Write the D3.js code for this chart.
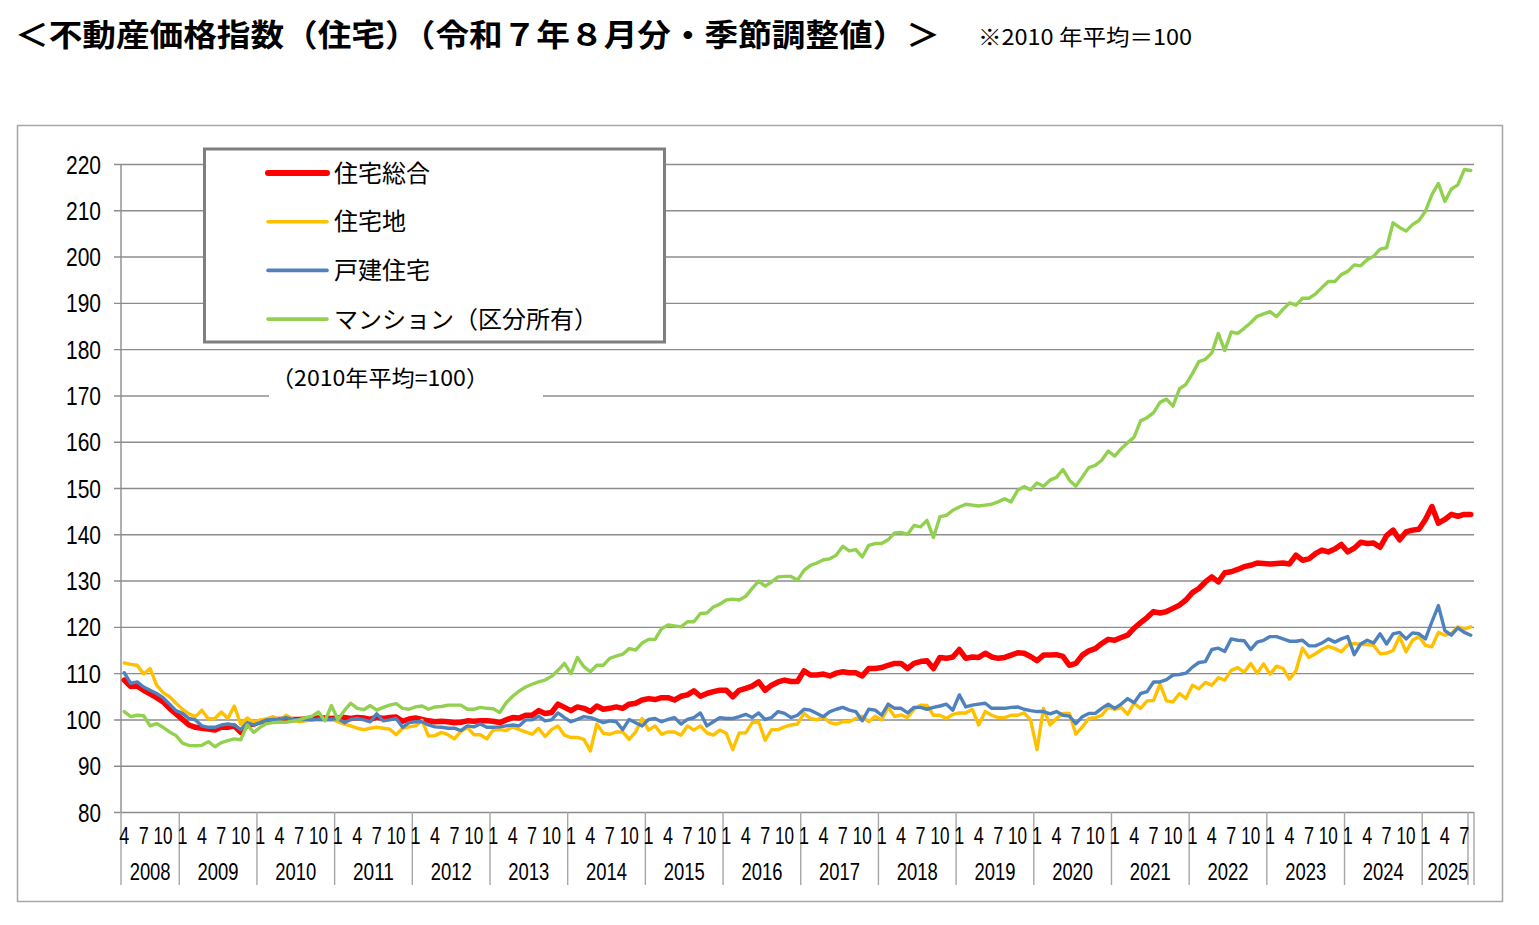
<!DOCTYPE html>
<html>
<head>
<meta charset="utf-8">
<script src="https://cdn.jsdelivr.net/npm/d3@7"></script>
<style>
body { margin: 0; background: #fff; }
text { font-family: "Noto Sans CJK JP", sans-serif; fill: #000; }
.num { font-family: "Liberation Sans", Arial, sans-serif; }
</style>
</head>
<body>
<svg id="chart"></svg>
<script>
// 不動産価格指数（住宅） 季節調整値, monthly 2008-04 .. 2025-08, 2010 avg = 100
var startYear = 2008, startMonth = 4;

var sogo = [ // 住宅総合
  108.5,107.1,107.2,106.3,105.5,104.7,103.8,102.4,101.2,
  100.0,98.8,98.3,98.1,97.9,97.7,98.3,98.3,98.6,97.2,98.8,99.0,
  99.5,99.8,100.0,100.0,100.1,100.0,100.0,100.1,100.2,100.3,100.3,100.2,
  100.3,100.4,100.2,100.4,100.3,100.0,100.5,100.2,100.4,100.5,99.6,100.1,
  100.3,100.0,99.7,99.5,99.6,99.5,99.3,99.4,99.7,99.6,99.7,99.7,
  99.6,99.3,99.9,100.4,100.3,100.9,100.9,101.9,101.3,101.5,103.3,102.6,
  101.9,102.7,102.4,101.7,102.9,102.2,102.4,102.7,102.4,103.3,103.5,104.2,
  104.5,104.3,104.7,104.7,104.2,105.0,105.3,106.2,105.0,105.6,106.0,106.3,
  106.3,104.9,106.3,106.7,107.2,108.1,106.3,107.4,108.1,108.5,108.2,108.2,
  110.5,109.6,109.6,109.8,109.4,110.0,110.3,110.1,110.1,109.4,111.0,111.0,
  111.2,111.7,112.1,112.1,111.0,112.1,112.5,112.7,111.0,113.4,113.2,113.5,
  115.1,113.2,113.5,113.4,114.3,113.5,113.2,113.4,113.9,114.4,114.3,113.6,
  112.7,113.9,113.9,114.0,113.6,111.7,112.1,113.9,114.8,115.3,116.4,117.3,
  117.1,117.7,118.2,119.7,120.9,122.0,123.3,123.0,123.3,124.0,124.7,125.8,
  127.4,128.3,129.7,130.8,129.7,131.7,131.9,132.4,133.0,133.3,133.8,133.7,
  133.6,133.7,133.8,133.6,135.5,134.4,134.7,135.8,136.6,136.2,136.8,137.8,
  136.2,137.0,138.3,138.0,138.1,137.2,139.7,140.9,138.8,140.5,140.9,141.1,
  143.2,146.0,142.4,143.2,144.3,143.9,144.3,144.3
];

var takuchi = [ // 住宅地
  112.2,111.9,111.7,109.8,111.0,107.4,105.8,104.9,103.5,
  102.2,101.2,100.6,102.0,100.1,100.2,101.6,100.2,102.9,98.9,100.3,99.4,
  99.9,100.1,100.6,99.9,100.9,100.1,99.5,99.7,99.9,100.0,99.9,100.0,
  99.5,99.0,98.6,98.1,97.8,98.1,98.3,98.1,97.9,96.7,98.1,98.4,
  98.6,99.8,96.4,96.5,97.2,96.7,95.8,97.4,98.3,96.7,96.7,95.8,
  97.7,97.8,97.6,98.4,97.8,97.3,96.8,98.1,96.3,97.8,98.6,96.6,
  96.1,96.1,95.7,93.2,99.0,97.0,96.8,97.3,97.3,95.7,97.3,100.2,
  97.7,98.6,96.8,97.3,97.3,96.6,98.6,97.7,98.6,97.1,96.6,97.7,
  97.0,93.5,97.1,97.1,99.3,99.5,95.5,97.8,97.8,98.4,98.8,99.0,
  101.3,100.2,99.9,100.6,99.3,99.0,99.5,99.5,100.2,100.7,99.5,100.7,
  99.9,102.7,100.6,101.0,100.4,102.2,103.1,103.0,100.9,100.9,100.2,101.1,
  101.4,101.4,102.2,98.8,101.7,100.9,100.4,100.4,100.9,100.9,101.4,99.9,
  93.5,102.4,98.8,100.2,101.3,101.3,96.8,98.4,100.2,100.4,100.9,102.6,
  102.2,102.6,101.1,103.5,102.4,104.0,104.1,107.6,104.0,103.8,105.6,104.5,
  107.4,106.6,108.0,107.4,109.0,108.5,110.6,111.2,110.2,112.1,110.0,112.0,
  109.8,111.5,111.0,108.7,110.5,115.4,113.4,114.2,115.1,115.8,115.3,114.6,
  116.1,116.4,116.2,116.2,116.0,114.2,114.3,114.9,117.9,114.6,117.1,117.9,
  116.0,115.7,118.8,118.2,118.5,120.0,119.5,120.0
];

var kodate = [ // 戸建住宅
  110.1,107.8,108.1,107.0,106.3,105.6,104.7,103.3,101.9,
  101.3,100.2,99.9,98.6,98.3,98.3,98.8,99.0,98.8,97.8,99.3,98.8,
  99.3,99.9,100.0,100.0,100.4,100.0,99.9,100.0,99.9,100.0,100.0,100.0,
  100.2,99.3,100.0,100.2,99.9,99.5,101.2,99.7,99.9,100.2,98.3,99.3,
  99.5,99.5,98.8,98.4,98.3,98.1,98.1,97.6,98.6,98.4,99.0,98.3,
  98.3,98.4,98.6,98.8,98.6,99.9,99.9,100.7,99.7,99.9,101.4,100.4,
  99.5,100.0,100.6,100.4,99.9,99.3,99.7,99.5,97.8,100.0,99.3,98.6,
  100.0,100.2,99.5,100.0,100.4,99.0,100.0,100.4,101.4,98.6,99.5,100.4,
  100.2,100.2,100.6,101.1,100.4,101.4,100.0,100.4,101.7,101.3,100.4,100.9,
  102.2,102.0,101.3,100.6,101.7,102.2,102.6,102.0,101.7,99.7,102.2,102.0,
  100.9,103.3,102.4,102.4,101.4,102.6,102.6,102.2,102.6,102.9,103.3,102.0,
  105.3,102.7,103.1,103.3,103.5,102.4,102.4,102.4,102.6,102.7,102.2,101.9,
  101.7,101.7,101.2,101.7,100.9,100.7,99.1,100.6,101.3,101.3,102.4,103.3,
  102.4,103.3,104.5,103.6,105.6,106.0,108.1,108.1,108.6,109.6,109.7,110.0,
  111.3,112.3,112.5,115.1,115.4,114.7,117.4,117.1,117.0,115.1,116.7,117.1,
  117.9,117.9,117.4,116.9,116.9,117.1,115.9,115.9,116.5,117.4,116.7,117.4,
  117.9,114.0,116.3,117.1,116.5,118.5,116.3,118.5,118.8,117.4,118.7,118.5,
  117.4,121.1,124.6,119.2,118.2,119.8,118.8,118.2
];

var mansion = [ // マンション（区分所有）
  101.7,100.6,100.9,100.8,98.6,99.1,98.3,97.3,96.5,
  94.9,94.4,94.3,94.4,95.2,94.1,95.0,95.4,95.8,95.6,98.8,97.2,
  98.3,99.1,99.3,99.4,99.4,99.6,99.9,100.4,100.7,101.6,99.7,103.0,
  100.0,101.9,103.5,102.4,102.1,103.0,102.0,102.6,103.1,103.4,102.4,102.2,
  102.7,102.9,102.2,102.7,102.8,103.1,103.1,103.1,102.2,102.2,102.6,102.4,
  102.3,101.5,103.6,105.0,106.1,107.0,107.6,108.1,108.5,109.3,110.6,112.1,
  109.9,113.4,111.4,110.3,111.7,111.7,113.2,113.7,114.1,115.3,115.0,116.5,
  117.3,117.3,119.6,120.4,120.2,120.0,121.1,121.1,122.9,123.0,124.3,124.9,
  125.8,126.0,125.8,126.6,128.3,129.9,128.8,129.7,130.8,130.9,130.9,130.1,
  132.2,133.3,133.8,134.5,134.7,135.5,137.4,136.4,136.7,135.1,137.6,138.0,
  138.0,138.8,140.3,140.4,140.0,141.9,141.6,143.0,139.3,143.8,144.1,145.2,
  145.9,146.5,146.3,146.1,146.3,146.5,147.0,147.7,147.0,149.5,150.3,149.6,
  151.1,150.4,151.7,152.3,154.0,151.7,150.4,152.4,154.4,154.9,156.0,158.0,
  156.9,158.5,159.8,161.0,164.5,165.2,166.3,168.5,169.2,167.7,171.4,172.4,
  174.7,177.3,177.8,179.2,183.4,179.7,183.7,183.4,184.5,185.7,187.1,187.6,
  188.1,187.0,188.6,190.0,189.5,191.0,191.0,191.9,193.3,194.6,194.6,196.1,
  196.8,198.2,198.0,199.3,200.1,201.6,201.9,207.3,206.3,205.5,206.9,207.8,
  209.8,213.4,215.8,211.9,214.6,215.5,218.8,218.6
];

var seriesNames = ["住宅総合", "住宅地", "戸建住宅", "マンション（区分所有）"];
var seriesValues = [sogo, takuchi, kodate, mansion];
var seriesColors = ["#ff0000", "#ffc000", "#4f81bd", "#92d050"];
var seriesWidths = [5.5, 3.4, 3.4, 3.4];

var yTicks = [80, 90, 100, 110, 120, 130, 140, 150, 160, 170, 180, 190, 200, 210, 220];
var monthTicks = [1, 4, 7, 10];

var titleText = "＜不動産価格指数（住宅）（令和７年８月分・季節調整値）＞";
var noteText = "※2010 年平均＝100";
var baseText = "（2010年平均=100）";

// month categories
var months = [];
for (var k = 0; k < sogo.length; k++) {
  var mm = startMonth - 1 + k;
  months.push({ i: k, year: startYear + Math.floor(mm / 12), month: (mm % 12) + 1 });
}

// plot box (window.top is read-only, so no bare "top")
var W = 1539, H = 925;
var plotL = 121, plotR = 1474, plotT = 164, plotB = 812;

var svg = d3.select("#chart").attr("width", W).attr("height", H);

// frame round the chart
svg.append("rect")
  .attr("x", 17.5).attr("y", 125.5)
  .attr("width", 1485).attr("height", 776)
  .attr("fill", "none").attr("stroke", "#a6a6a6").attr("stroke-width", 1.5);

var x = d3.scaleBand().domain(months.map(function(d) { return d.i; })).range([plotL, plotR]);
var y = d3.scaleLinear().domain([80, 220]).range([plotB, plotT]);
var cx = function(i) { return x(i) + x.bandwidth() / 2; };

// y axis with gridlines
var yAxis = svg.append("g")
  .attr("transform", "translate(114,0)")
  .call(d3.axisLeft(y).tickValues(yTicks).tickSizeInner(-(plotR - 114)).tickSizeOuter(0).tickPadding(13));
yAxis.select(".domain").remove();
yAxis.selectAll(".tick line").attr("stroke", "#8c8c8c").attr("stroke-width", 1.4);
yAxis.selectAll(".tick text")
  .attr("class", "num")
  .attr("font-size", 26)
  .attr("fill", "#000")
  .attr("dy", "0.35em")
  .attr("textLength", function(d) { return d >= 100 ? 35 : 23; })
  .attr("lengthAdjust", "spacingAndGlyphs");

svg.append("line")
  .attr("x1", plotL).attr("x2", plotL).attr("y1", plotT).attr("y2", plotB)
  .attr("stroke", "#8c8c8c").attr("stroke-width", 1.4);

// category axis: month row and year row
var years = d3.groups(months, function(d) { return d.year; });
var sepTop = plotB, sepBottom = 885;

svg.append("g").selectAll("line")
  .data(years)
  .enter().append("line")
  .attr("x1", function(d) { return x(d[1][0].i); })
  .attr("x2", function(d) { return x(d[1][0].i); })
  .attr("y1", sepTop).attr("y2", sepBottom)
  .attr("stroke", "#a6a6a6").attr("stroke-width", 1.4);

[plotR - 6, plotR].forEach(function(xx) {
  svg.append("line")
    .attr("x1", xx).attr("x2", xx).attr("y1", sepTop).attr("y2", sepBottom)
    .attr("stroke", "#a6a6a6").attr("stroke-width", 1.4);
});

svg.append("g").selectAll("text")
  .data(months.filter(function(d) { return monthTicks.indexOf(d.month) >= 0; }))
  .enter().append("text")
  .attr("class", "num")
  .attr("x", function(d) { return cx(d.i); })
  .attr("y", 836)
  .attr("dy", "0.35em")
  .attr("text-anchor", "middle")
  .attr("font-size", 23)
  .attr("textLength", function(d) { return d.month >= 10 ? 19 : 10; })
  .attr("lengthAdjust", "spacingAndGlyphs")
  .text(function(d) { return d.month; });

svg.append("g").selectAll("text")
  .data(years)
  .enter().append("text")
  .attr("class", "num")
  .attr("x", function(d) {
    var a = d[1][0].i, b = d[1][d[1].length - 1].i;
    return (x(a) + x(b) + x.bandwidth()) / 2;
  })
  .attr("y", 872)
  .attr("dy", "0.35em")
  .attr("text-anchor", "middle")
  .attr("font-size", 23)
  .attr("textLength", 41)
  .attr("lengthAdjust", "spacingAndGlyphs")
  .text(function(d) { return d[0]; });

// series lines
var line = d3.line()
  .x(function(d, i) { return cx(i); })
  .y(function(d) { return y(d); });

svg.append("g").selectAll("path")
  .data(seriesValues)
  .enter().append("path")
  .attr("d", line)
  .attr("fill", "none")
  .attr("stroke", function(d, i) { return seriesColors[i]; })
  .attr("stroke-width", function(d, i) { return seriesWidths[i]; })
  .attr("stroke-linejoin", "round")
  .attr("stroke-linecap", "round");

// legend
var legend = svg.append("g");
legend.append("rect")
  .attr("x", 204.5).attr("y", 149)
  .attr("width", 460).attr("height", 193)
  .attr("fill", "#fff").attr("stroke", "#7f7f7f").attr("stroke-width", 3);

var items = legend.selectAll("g.item")
  .data(seriesNames)
  .enter().append("g")
  .attr("class", "item")
  .attr("transform", function(d, i) { return "translate(0," + (173 + i * 48.7) + ")"; });

items.append("line")
  .attr("x1", 268).attr("x2", 327)
  .attr("stroke", function(d, i) { return seriesColors[i]; })
  .attr("stroke-width", function(d, i) { return i === 0 ? 6 : 3.6; })
  .attr("stroke-linecap", "round");

items.append("text")
  .attr("x", 334)
  .attr("dy", "0.36em")
  .attr("font-size", 24)
  .text(function(d) { return d; });

// base note inside the plot
svg.append("rect")
  .attr("x", 269).attr("y", 362)
  .attr("width", 274).attr("height", 38)
  .attr("fill", "#fff");
svg.append("text")
  .attr("x", 271).attr("y", 378)
  .attr("dy", "0.36em")
  .attr("font-size", 22)
  .attr("textLength", 218)
  .attr("lengthAdjust", "spacingAndGlyphs")
  .text(baseText);

// title
svg.append("text")
  .attr("x", 15).attr("y", 35)
  .attr("dy", "0.36em")
  .attr("font-size", 31)
  .attr("font-weight", "bold")
  .attr("textLength", 925)
  .attr("lengthAdjust", "spacingAndGlyphs")
  .text(titleText);

svg.append("text")
  .attr("x", 978).attr("y", 37)
  .attr("dy", "0.36em")
  .attr("font-size", 22)
  .attr("textLength", 214)
  .attr("lengthAdjust", "spacingAndGlyphs")
  .text(noteText);
</script>
</body>
</html>
